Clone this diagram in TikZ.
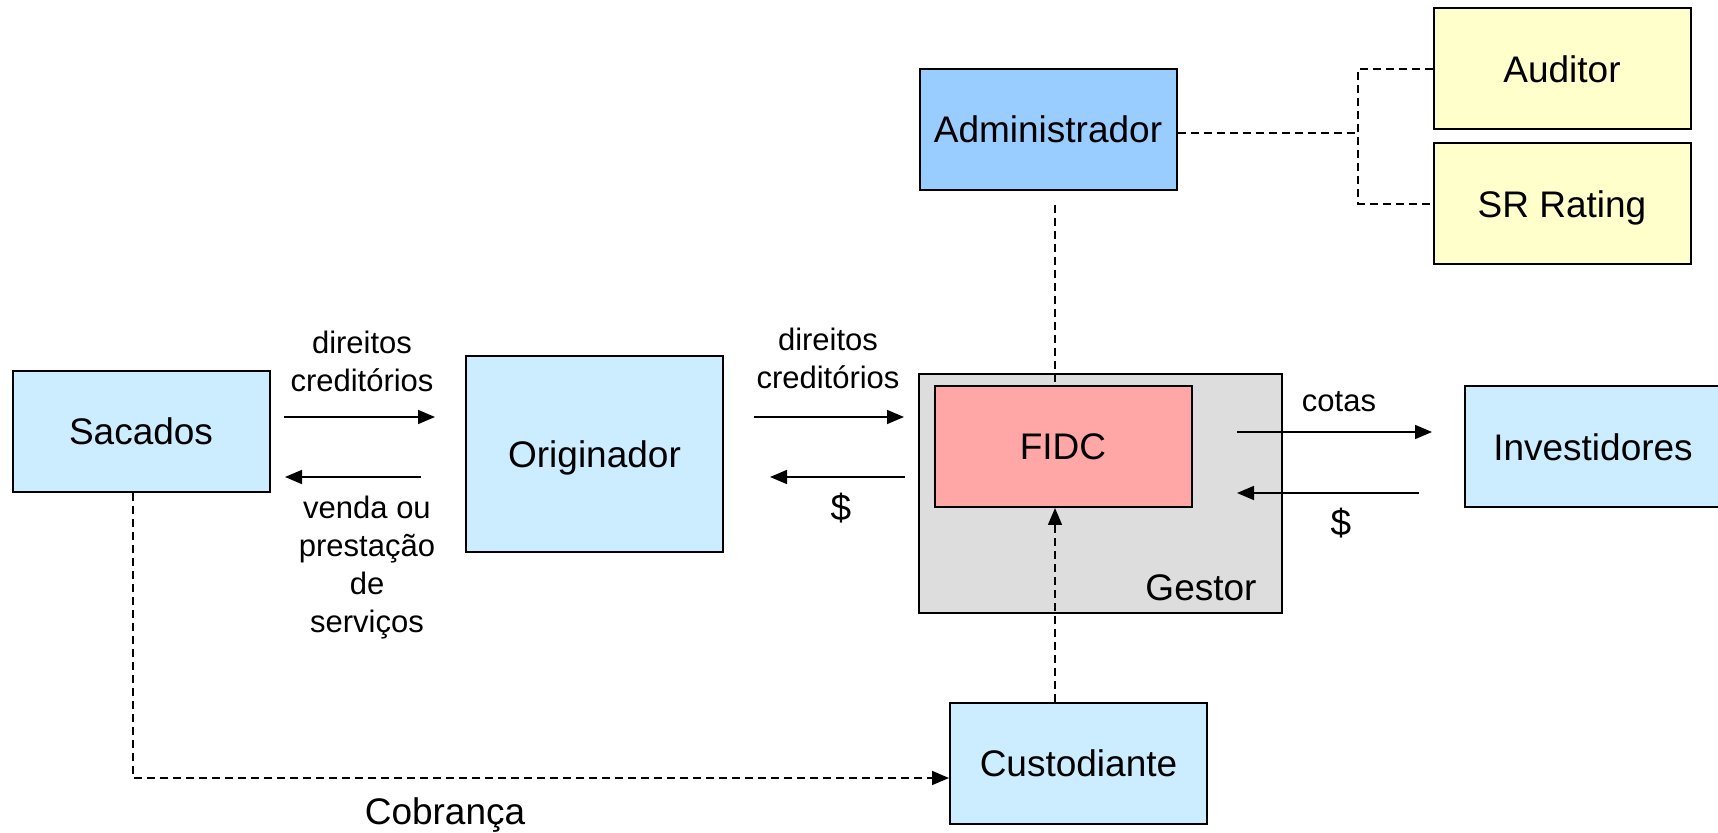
\documentclass[tikz,border=0pt]{standalone}
\usepackage{fontspec}
\setmainfont{Liberation Sans}
\usetikzlibrary{arrows.meta}
\newcommand\boxfont{\fontsize{18.5}{22}\selectfont}
\newcommand\lblfont{\fontsize{15.5}{19}\selectfont}
\definecolor{lblue}{HTML}{CCECFF}
\definecolor{mblue}{HTML}{99CCFF}
\definecolor{pinkf}{HTML}{FFA6A6}
\definecolor{grayf}{HTML}{DDDDDD}
\definecolor{lyell}{HTML}{FFFFCC}
\tikzset{
  box/.style={draw, line width=1pt, inner sep=0pt, font=\boxfont, minimum width=128.5pt, minimum height=60.5pt, text height=13.3pt, text depth=0pt},
  lbl/.style={font=\lblfont, align=center, inner sep=0pt},
  big/.style={font=\boxfont, inner sep=0pt},
  tip/.style={-{Triangle[length=8.5pt,width=7pt]}},
  arr/.style={line width=0.8pt, tip},
  dl/.style={line width=0.8pt, dash pattern=on 4pt off 2.5pt},
}
\begin{document}
\begin{tikzpicture}[x=0.5pt,y=-0.5pt]
\useasboundingbox (0,0) rectangle (1718,833);
% boxes
\node[box, fill=grayf, minimum width=181.5pt, minimum height=119.5pt] (Gestor) at (1100.5,493.5) {};
\node[box, fill=lblue] (Sacados) at (141,431.5) {Sacados};
\node[box, fill=lblue, minimum height=98pt] (Orig) at (594.5,454) {Originador};
\node[box, fill=pinkf] (FIDC) at (1063,446.5) {FIDC};
\node[box, fill=lblue] (Inv) at (1593,447) {Investidores};
\node[box, fill=mblue] (Admin) at (1048,129.5) {Administrador};
\node[box, fill=lyell] (Aud) at (1562,69) {Auditor};
\node[box, fill=lyell] (SR) at (1562,204) {SR Rating};
\node[box, fill=lblue] (Cust) at (1078.5,763.5) {Custodiante};
\node[big] (gestorlbl) at (1201,588) {Gestor};
% labels
\node[lbl] (l1) at (362,361) {direitos\\creditórios};
\node[lbl] (l2) at (367,568) {venda ou\\prestação\\de\\serviços};
\node[lbl] (l3) at (828,358) {direitos\\creditórios};
\node[big] (d1) at (841,508) {\$};
\node[lbl] (l4) at (1339,402) {cotas};
\node[big] (d2) at (1341,523) {\$};
\node[big] (cob) at (445,815) {Cobrança};
% solid arrows
\coordinate (a1s) at (284,417); \coordinate (a1e) at (435,417);
\coordinate (a2s) at (421,477); \coordinate (a2e) at (285,477);
\coordinate (a3s) at (754,417); \coordinate (a3e) at (904,417);
\coordinate (a4s) at (905,477); \coordinate (a4e) at (770,477);
\coordinate (a5s) at (1237,432); \coordinate (a5e) at (1432,432);
\coordinate (a6s) at (1419,493); \coordinate (a6e) at (1237,493);
\draw[arr] (a1s) -- (a1e);
\draw[arr] (a2s) -- (a2e);
\draw[arr] (a3s) -- (a3e);
\draw[arr] (a4s) -- (a4e);
\draw[arr] (a5s) -- (a5e);
\draw[arr] (a6s) -- (a6e);
% dashed connectors
\coordinate (j) at (1358,133);
\draw[dl] (Admin.east |- j) -- (j);
\draw[dl] (Aud.west) -| (j) |- (SR.west);
\coordinate (adm) at (1055,205);
\draw[dl] (adm) -- (adm |- FIDC.north);
\draw[dl, tip] (Cust.north -| adm) -- (adm |- FIDC.south);
\coordinate (sc) at (133,778);
\draw[dl, tip] (Sacados.south -| sc) -- (sc) -- (Cust.west |- sc);
\end{tikzpicture}
\end{document}
